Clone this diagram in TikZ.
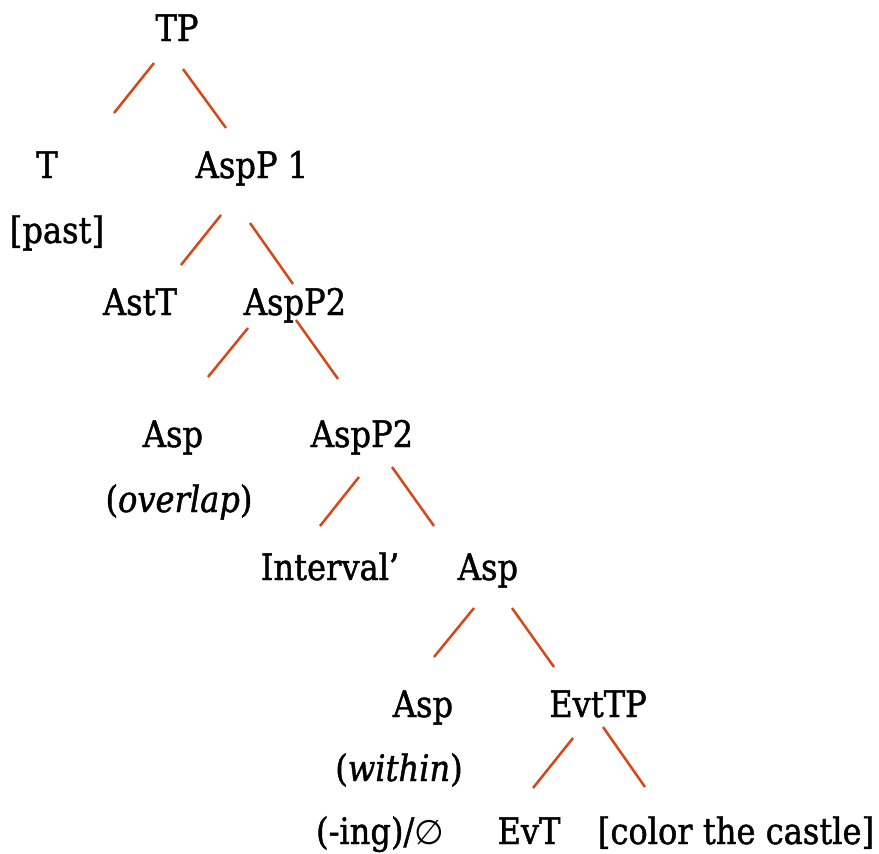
\documentclass[tikz,border=0pt]{standalone}
\usepackage{fontspec}
\setmainfont[FakeStretch=0.88,FakeBold=1.2]{DejaVu Serif}
\newfontfamily\symfont{DejaVu Sans}
\definecolor{branch}{HTML}{D5481A}
\begin{document}
\begin{tikzpicture}[x=1pt,y=-1pt,
  lbl/.style={anchor=base,inner sep=0pt,outer sep=0pt,font=\fontsize{36.5}{42}\selectfont},
  edge/.style={draw=branch,line width=2.5pt}]
\useasboundingbox (0,0) rectangle (879,854);

% category labels, placed on their baselines
\node[lbl] (tp)     at (177,41)   {TP};
\node[lbl] (t)      at (47,178)   {T};
\node[lbl] (asp1)   at (252,178)  {AspP 1};
\node[lbl] (past)   at (57,243)   {[past]};
\node[lbl] (astt)   at (140,315)  {AstT};
\node[lbl] (aspa)   at (295,315)  {AspP2};
\node[lbl] (asph)   at (173,447)  {Asp};
\node[lbl] (aspb)   at (362,447)  {AspP2};
\node[lbl] (ovl)    at (179,512)  {(\textit{overlap})};
\node[lbl] (intv)   at (330,580)  {Interval’};
\node[lbl] (aspc)   at (488,580)  {Asp};
\node[lbl] (aspd)   at (423,717)  {Asp};
\node[lbl] (evtp)   at (598,717)  {EvtTP};
\node[lbl] (within) at (399,781)  {(\textit{within})};
\node[lbl] (ing)    at (380,844)  {(-ing)/{\symfont\fontsize{34}{40}\selectfont ∅}};
\node[lbl] (evt)    at (529,844)  {EvT};
\node[lbl] (vp)     at (736,844)  {[color the castle]};

% branch end points
\coordinate (tp-l1) at (154,63);   \coordinate (tp-l2) at (114,113);
\coordinate (tp-r1) at (183,69);   \coordinate (tp-r2) at (226,128);
\coordinate (a1-l1) at (221,215);  \coordinate (a1-l2) at (181,265);
\coordinate (a1-r1) at (250,223);  \coordinate (a1-r2) at (293,284);
\coordinate (aa-l1) at (248,328);  \coordinate (aa-l2) at (208,377);
\coordinate (aa-r1) at (296,320);  \coordinate (aa-r2) at (338,379);
\coordinate (ab-l1) at (359,477);  \coordinate (ab-l2) at (320,526);
\coordinate (ab-r1) at (392,467);  \coordinate (ab-r2) at (434,526);
\coordinate (ac-l1) at (474,608);  \coordinate (ac-l2) at (434,657);
\coordinate (ac-r1) at (512,608);  \coordinate (ac-r2) at (554,667);
\coordinate (ev-l1) at (573,738);  \coordinate (ev-l2) at (533,788);
\coordinate (ev-r1) at (603,727);  \coordinate (ev-r2) at (645,787);

% branches
\draw[edge] (tp-l1) -- (tp-l2);
\draw[edge] (tp-r1) -- (tp-r2);
\draw[edge] (a1-l1) -- (a1-l2);
\draw[edge] (a1-r1) -- (a1-r2);
\draw[edge] (aa-l1) -- (aa-l2);
\draw[edge] (aa-r1) -- (aa-r2);
\draw[edge] (ab-l1) -- (ab-l2);
\draw[edge] (ab-r1) -- (ab-r2);
\draw[edge] (ac-l1) -- (ac-l2);
\draw[edge] (ac-r1) -- (ac-r2);
\draw[edge] (ev-l1) -- (ev-l2);
\draw[edge] (ev-r1) -- (ev-r2);
\end{tikzpicture}
\end{document}
